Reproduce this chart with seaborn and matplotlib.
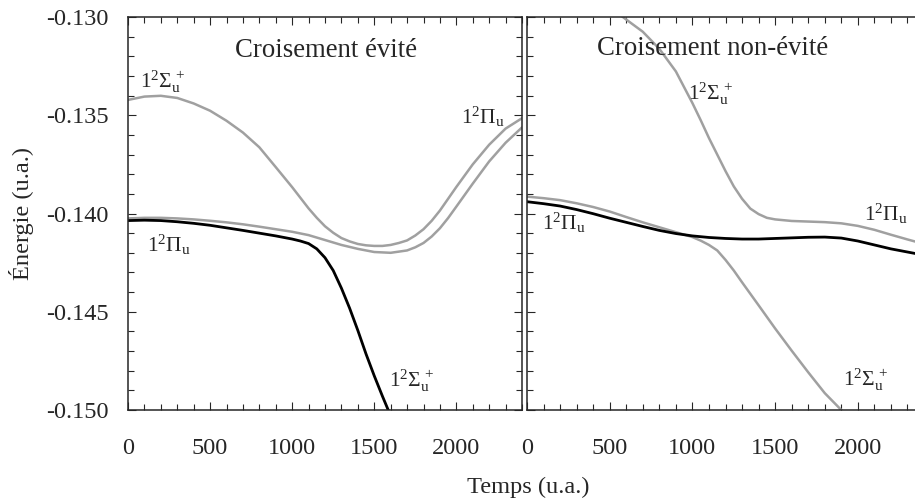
import matplotlib
matplotlib.use("Agg")
import matplotlib.pyplot as plt
from matplotlib import ticker
import seaborn as sns

# --- Croisement évité (left panel), temps in u.a. ---
t_evite_haut = [0, 100, 200, 300, 400, 500, 600, 700, 800, 900, 1000, 1100, 1150, 1200, 1250,
                1300, 1350, 1400, 1450, 1500, 1550, 1600, 1650, 1700, 1750, 1800, 1850, 1900,
                2000, 2100, 2200, 2300, 2400]
e_evite_haut = [-0.13422, -0.13405, -0.13401, -0.13412, -0.13440, -0.13477, -0.13528,
                -0.13588, -0.13663, -0.13764, -0.13866, -0.13974, -0.14022, -0.14065, -0.14098,
                -0.14125, -0.14142, -0.14155, -0.14162, -0.14165, -0.14165, -0.14160, -0.14150,
                -0.14137, -0.14112, -0.14080, -0.14037, -0.13985,
                -0.13865, -0.13750, -0.13650, -0.13568, -0.13515]

t_evite_bas = [0, 100, 200, 300, 400, 500, 600, 700, 800, 900, 1000, 1100, 1200, 1300, 1400,
               1500, 1600, 1700, 1750, 1800, 1850, 1900, 1950, 2000, 2100, 2200, 2300, 2400]
e_evite_bas = [-0.14025, -0.14022, -0.14022, -0.14025, -0.14030, -0.14037, -0.14045,
               -0.14055, -0.14067, -0.14080, -0.14093, -0.14110, -0.14135, -0.14160,
               -0.14180, -0.14196, -0.14200, -0.14188, -0.14172, -0.14150, -0.14117, -0.14075,
               -0.14023, -0.13965, -0.13848, -0.13735, -0.13640, -0.13562]

t_evite_noir = [0, 100, 200, 300, 400, 500, 600, 700, 800, 900, 1000, 1050, 1100, 1150, 1200,
                1250, 1300, 1350, 1400, 1450, 1500, 1550, 1600]
e_evite_noir = [-0.14036, -0.14034, -0.14036, -0.14042, -0.14050, -0.14060, -0.14073,
                -0.14086, -0.14100, -0.14114, -0.14130, -0.14140, -0.14153, -0.14180, -0.14225,
                -0.14290, -0.14380, -0.14482, -0.14595, -0.14715, -0.14826, -0.14930, -0.15030]

# --- Croisement non-évité (right panel) ---
t_sigma = [400, 500, 600, 700, 800, 900, 1000, 1050, 1100, 1150, 1200, 1250, 1300, 1350,
           1400, 1450, 1500, 1600, 1700, 1800, 1900, 2000, 2100, 2200, 2300, 2400]
e_sigma = [-0.12900, -0.12950, -0.13013, -0.13075, -0.13162, -0.13277, -0.13438, -0.13525,
           -0.13616, -0.13700, -0.13784, -0.13862, -0.13925, -0.13975, -0.14003, -0.14022,
           -0.14030, -0.14038, -0.14041, -0.14044, -0.14050, -0.14063, -0.14083, -0.14108,
           -0.14132, -0.14155]

t_pi = [0, 100, 200, 300, 400, 500, 600, 700, 800, 900, 1000, 1050, 1100, 1150, 1200, 1250,
        1300, 1400, 1500, 1600, 1700, 1800, 1900, 2000]
e_pi = [-0.13914, -0.13922, -0.13932, -0.13948, -0.13967, -0.13990, -0.14018, -0.14045,
        -0.14070, -0.14095, -0.14120, -0.14138, -0.14160, -0.14188, -0.14236, -0.14290,
        -0.14350, -0.14467, -0.14585, -0.14698, -0.14808, -0.14914, -0.15000, -0.15100]

t_noir = [0, 100, 200, 300, 400, 500, 600, 700, 800, 900, 1000, 1100, 1200, 1300, 1400,
          1500, 1600, 1700, 1800, 1900, 2000, 2100, 2200, 2300, 2400]
e_noir = [-0.13940, -0.13950, -0.13962, -0.13980, -0.14001, -0.14024, -0.14045, -0.14066,
          -0.14086, -0.14102, -0.14114, -0.14122, -0.14127, -0.14130, -0.14130, -0.14127,
          -0.14124, -0.14121, -0.14120, -0.14125, -0.14140, -0.14160, -0.14180, -0.14196,
          -0.14212]

SIGMA = r'$1^2\Sigma_\mathrm{u}^{\,+}$'
PI = r'$1^2\Pi_\mathrm{u}$'

# state labels: (text, temps, énergie at baseline)
labels_evite = [(SIGMA, 73, -0.13358), (PI, 114, -0.14194),
                (PI, 2030, -0.13545), (SIGMA, 1588, -0.14882)]
labels_non_evite = [(SIGMA, 975, -0.13422), (PI, 2040, -0.14036),
                    (PI, 89, -0.14084), (SIGMA, 1912, -0.14875)]

sns.set_style("ticks")
plt.rcParams['font.family'] = ['Liberation Serif', 'DejaVu Serif']
plt.rcParams['mathtext.fontset'] = 'custom'
plt.rcParams['mathtext.rm'] = 'Liberation Serif'
plt.rcParams['mathtext.it'] = 'Liberation Serif:italic'
plt.rcParams['mathtext.bf'] = 'Liberation Serif:bold'

GRIS = '#a0a0a0'

fig = plt.figure(figsize=(9.15, 4.99), dpi=100)
W, H = 915, 499
ax1 = fig.add_axes([128 / W, 1 - 410 / H, 394 / W, 393 / H])
ax2 = fig.add_axes([527 / W, 1 - 410 / H, 397 / W, 393 / H])

sns.lineplot(x=t_evite_haut, y=e_evite_haut, ax=ax1, color=GRIS, linewidth=1.8)
sns.lineplot(x=t_evite_bas, y=e_evite_bas, ax=ax1, color=GRIS, linewidth=1.8)
sns.lineplot(x=t_evite_noir, y=e_evite_noir, ax=ax1, color='black', linewidth=2.0)

sns.lineplot(x=t_sigma, y=e_sigma, ax=ax2, color=GRIS, linewidth=1.8)
sns.lineplot(x=t_pi, y=e_pi, ax=ax2, color=GRIS, linewidth=1.8)
sns.lineplot(x=t_noir, y=e_noir, ax=ax2, color='black', linewidth=2.0)

for ax in (ax1, ax2):
    ax.set_xlim(0, 2400)
    ax.set_ylim(-0.150, -0.130)
    ax.xaxis.set_major_locator(ticker.MultipleLocator(500))
    ax.xaxis.set_minor_locator(ticker.MultipleLocator(100))
    ax.yaxis.set_major_locator(ticker.MultipleLocator(0.005))
    ax.yaxis.set_minor_locator(ticker.MultipleLocator(0.001))
    ax.tick_params(which='both', direction='in', top=True, right=True,
                   width=0.8, labelsize=17.5)
    ax.tick_params(which='major', length=5.8)
    ax.tick_params(which='minor', length=4.3)
    ax.tick_params(axis='x', pad=20)
    ax.tick_params(axis='y', pad=14)
    for s in ax.spines.values():
        s.set_linewidth(1.1)
    ax.set_xlabel('')
    ax.set_ylabel('')

ax1.yaxis.set_major_formatter(ticker.FormatStrFormatter('%.3f'))
ax2.tick_params(axis='y', labelleft=False)

ax1.text(1205, -0.13202, 'Croisement évité', ha='center', va='baseline', fontsize=19.3)
ax2.text(1123, -0.13193, 'Croisement non-évité', ha='center', va='baseline', fontsize=19.3)

for txt, x, y in labels_evite:
    ax1.text(x, y, txt, ha='left', va='baseline', fontsize=15.5)
for txt, x, y in labels_non_evite:
    ax2.text(x, y, txt, ha='left', va='baseline', fontsize=15.5)

fig.text(22 / W, 1 - 214 / H, 'Énergie (u.a.)', rotation=90, ha='center', va='center', fontsize=17.6)
fig.text(528 / W, 1 - 493 / H, 'Temps (u.a.)', ha='center', va='baseline', fontsize=17.6)

fig.savefig('out.png', dpi=100)
